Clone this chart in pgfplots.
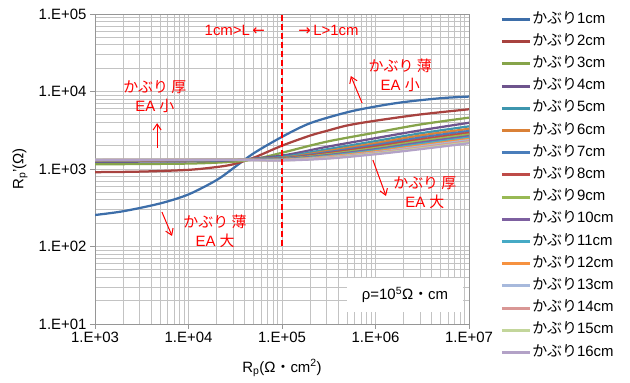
\documentclass[border=0pt]{standalone}
\usepackage{fontspec}
\setmainfont{Liberation Sans}
\newfontfamily\cjk{Noto Sans CJK JP}
\newfontfamily\dejavu{DejaVu Sans}
\usepackage{pgfplots}
\pgfplotsset{compat=1.18}
\usetikzlibrary{arrows.meta}
\definecolor{c1}{RGB}{61,110,169}
\definecolor{c2}{RGB}{168,66,63}
\definecolor{c3}{RGB}{134,164,74}
\definecolor{c4}{RGB}{110,84,141}
\definecolor{c5}{RGB}{61,150,174}
\definecolor{c6}{RGB}{218,129,55}
\definecolor{c7}{RGB}{74,126,187}
\definecolor{c8}{RGB}{190,75,72}
\definecolor{c9}{RGB}{152,185,84}
\definecolor{c10}{RGB}{125,96,160}
\definecolor{c11}{RGB}{70,170,197}
\definecolor{c12}{RGB}{246,146,64}
\definecolor{c13}{RGB}{167,185,220}
\definecolor{c14}{RGB}{217,151,149}
\definecolor{c15}{RGB}{195,214,155}
\definecolor{c16}{RGB}{179,162,199}
\definecolor{gridc}{RGB}{195,195,195}
\definecolor{axc}{RGB}{150,150,150}
\definecolor{annred}{RGB}{255,0,0}
\begin{document}
\begin{tikzpicture}
\path[use as bounding box] (-95bp,-59bp) rectangle (535bp,324bp);
\begin{axis}[
  xmode=log, ymode=log,
  scale only axis, width=374bp, height=310bp,
  xmin=1e3, xmax=1e7, ymin=10, ymax=1e5,
  xtick={1e3,1e4,1e5,1e6,1e7},
  xticklabels={1.E+03,1.E+04,1.E+05,1.E+06,1.E+07},
  ytick={1e1,1e2,1e3,1e4,1e5},
  yticklabels={1.E+01,1.E+02,1.E+03,1.E+04,1.E+05},
  minor xtick={2e3,3e3,4e3,5e3,6e3,7e3,8e3,9e3,2e4,3e4,4e4,5e4,6e4,7e4,8e4,9e4,2e5,3e5,4e5,5e5,6e5,7e5,8e5,9e5,2e6,3e6,4e6,5e6,6e6,7e6,8e6,9e6},
  minor ytick={20,30,40,50,60,70,80,90,200,300,400,500,600,700,800,900,2e3,3e3,4e3,5e3,6e3,7e3,8e3,9e3,2e4,3e4,4e4,5e4,6e4,7e4,8e4,9e4},
  grid=both,
  major grid style={draw=gridc, line width=0.75bp},
  minor grid style={draw=gridc, line width=0.75bp},
  axis line style={draw=axc, line width=0.75bp},
  tick pos=left, tick align=outside,
  major tick length=5bp, minor tick length=0bp,
  tick style={draw=axc, line width=0.75bp},
  ticklabel style={font=\fontsize{15}{17}\selectfont},
  xlabel={R\textsubscript{p}(Ω{\cjk ・}cm\textsuperscript{2})},
  ylabel={R\textsubscript{p}'(Ω)},
  label style={font=\fontsize{15}{17}\selectfont},
  xlabel style={at={(axis description cs:0.5,-0.142)}, anchor=center},
  ylabel style={at={(axis description cs:-0.2005,0.5)}, anchor=center},
  legend style={draw=none, fill=none, at={(rel axis cs:1.075,1.0145)}, anchor=north west,
    font=\fontsize{15}{17}\selectfont, cells={anchor=west}, row sep=6.7bp,
    nodes={inner sep=1bp, text height=10.5bp, text depth=3bp}},
  legend image code/.code={\draw[#1, line width=3bp] (0bp,0bp) -- (28bp,0bp);},
  every axis plot/.append style={line width=2.25bp, smooth, no markers},
]
\addplot[c1] coordinates {(1e3,255)(2e3,285)(5e3,360)(1e4,470)(2e4,720)(3e4,1020)(5e4,1600)(1e5,2600)(2e5,3900)(5e5,5400)(1e6,6400)(2e6,7300)(5e6,8200)(1e7,8600)};
\addlegendentry{{\cjk かぶり}1cm}
\addplot[c2] coordinates {(1e3,910)(3e3,925)(1e4,975)(2e4,1060)(3e4,1150)(5e4,1400)(1e5,2000)(2e5,2700)(3e5,3100)(5e5,3650)(1e6,4200)(3e6,5050)(1e7,5900)};
\addlegendentry{{\cjk かぶり}2cm}
\addplot[c3] coordinates {(1e3,1150)(1e4,1175)(3e4,1240)(5e4,1330)(1e5,1620)(3e5,2250)(1e6,2950)(3e6,3750)(1e7,4600)};
\addlegendentry{{\cjk かぶり}3cm}
\addplot[c4] coordinates {(1e3,1240)(1e4,1255)(3e4,1300)(1e5,1490)(3e5,1930)(1e6,2500)(3e6,3150)(1e7,3950)};
\addlegendentry{{\cjk かぶり}4cm}
\addplot[c5] coordinates {(1e3,1265)(1e4,1275)(3e4,1315)(1e5,1430)(3e5,1790)(1e6,2290)(3e6,2880)(1e7,3550)};
\addlegendentry{{\cjk かぶり}5cm}
\addplot[c6] coordinates {(1e3,1280)(1e4,1290)(3e4,1325)(1e5,1395)(3e5,1700)(1e6,2150)(3e6,2700)(1e7,3300)};
\addlegendentry{{\cjk かぶり}6cm}
\addplot[c7] coordinates {(1e3,1290)(1e4,1298)(3e4,1326)(1e5,1380)(3e5,1640)(1e6,2040)(3e6,2540)(1e7,3100)};
\addlegendentry{{\cjk かぶり}7cm}
\addplot[c8] coordinates {(1e3,1295)(1e4,1302)(3e4,1326)(1e5,1365)(3e5,1590)(1e6,1950)(3e6,2400)(1e7,2930)};
\addlegendentry{{\cjk かぶり}8cm}
\addplot[c9] coordinates {(1e3,1299)(1e4,1306)(3e4,1325)(1e5,1350)(3e5,1545)(1e6,1870)(3e6,2290)(1e7,2790)};
\addlegendentry{{\cjk かぶり}9cm}
\addplot[c10] coordinates {(1e3,1302)(1e4,1309)(3e4,1323)(1e5,1338)(3e5,1505)(1e6,1800)(3e6,2190)(1e7,2660)};
\addlegendentry{{\cjk かぶり}10cm}
\addplot[c11] coordinates {(1e3,1305)(1e4,1311)(3e4,1321)(1e5,1327)(3e5,1470)(1e6,1740)(3e6,2100)(1e7,2550)};
\addlegendentry{{\cjk かぶり}11cm}
\addplot[c12] coordinates {(1e3,1307)(1e4,1313)(3e4,1319)(1e5,1317)(3e5,1440)(1e6,1690)(3e6,2020)(1e7,2450)};
\addlegendentry{{\cjk かぶり}12cm}
\addplot[c13] coordinates {(1e3,1309)(1e4,1314)(3e4,1317)(1e5,1308)(3e5,1415)(1e6,1640)(3e6,1950)(1e7,2360)};
\addlegendentry{{\cjk かぶり}13cm}
\addplot[c14] coordinates {(1e3,1311)(1e4,1315)(3e4,1315)(1e5,1300)(3e5,1395)(1e6,1610)(3e6,1890)(1e7,2280)};
\addlegendentry{{\cjk かぶり}14cm}
\addplot[c15] coordinates {(1e3,1312)(1e4,1316)(3e4,1313)(1e5,1295)(3e5,1375)(1e6,1580)(3e6,1840)(1e7,2210)};
\addlegendentry{{\cjk かぶり}15cm}
\addplot[c16] coordinates {(1e3,1313)(1e4,1316)(3e4,1311)(1e5,1290)(3e5,1360)(1e6,1550)(3e6,1800)(1e7,2150)};
\addlegendentry{{\cjk かぶり}16cm}
\addplot[annred, line width=1.2bp, dash pattern=on 6bp off 3bp, forget plot, sharp plot] coordinates {(1e5,100)(1e5,1e5)};
% annotations
\begin{scope}[annred, font=\fontsize{15}{19}\selectfont]
\node[anchor=east, inner sep=0pt] at (rel axis cs:0.455,0.948) {1cm>L\,{\dejavu ←}};
\node[anchor=west, inner sep=0pt] at (rel axis cs:0.543,0.948) {{\dejavu →}\,L>1cm};
\node[align=center, inner sep=0pt] at (rel axis cs:0.16,0.732) {{\cjk かぶり 厚}\\EA {\cjk 小}};
\node[align=center, inner sep=0pt] at (rel axis cs:0.816,0.803) {{\cjk かぶり 薄}\\EA {\cjk 小}};
\node[align=center, inner sep=0pt] at (rel axis cs:0.882,0.423) {{\cjk かぶり 厚}\\EA {\cjk 大}};
\node[align=center, inner sep=0pt] at (rel axis cs:0.321,0.300) {{\cjk かぶり 薄}\\EA {\cjk 大}};
\draw[line width=1bp, -{Straight Barb[length=6bp,width=8bp]}] (rel axis cs:0.166,0.568) -- (rel axis cs:0.166,0.648);
\draw[line width=1bp, -{Straight Barb[length=6bp,width=8bp]}] (rel axis cs:0.714,0.713) -- (rel axis cs:0.684,0.800);
\draw[line width=1bp, -{Straight Barb[length=6bp,width=8bp]}] (rel axis cs:0.743,0.529) -- (rel axis cs:0.778,0.413);
\draw[line width=1bp, -{Straight Barb[length=6bp,width=8bp]}] (rel axis cs:0.179,0.361) -- (rel axis cs:0.206,0.284);
\end{scope}
\node[fill=white, minimum width=116bp, minimum height=34bp, inner sep=0pt, font=\fontsize{15}{17}\selectfont] at (rel axis cs:0.829,0.094) {ρ=10\textsuperscript{5}Ω{\cjk ・}cm};
\end{axis}
\end{tikzpicture}
\end{document}
